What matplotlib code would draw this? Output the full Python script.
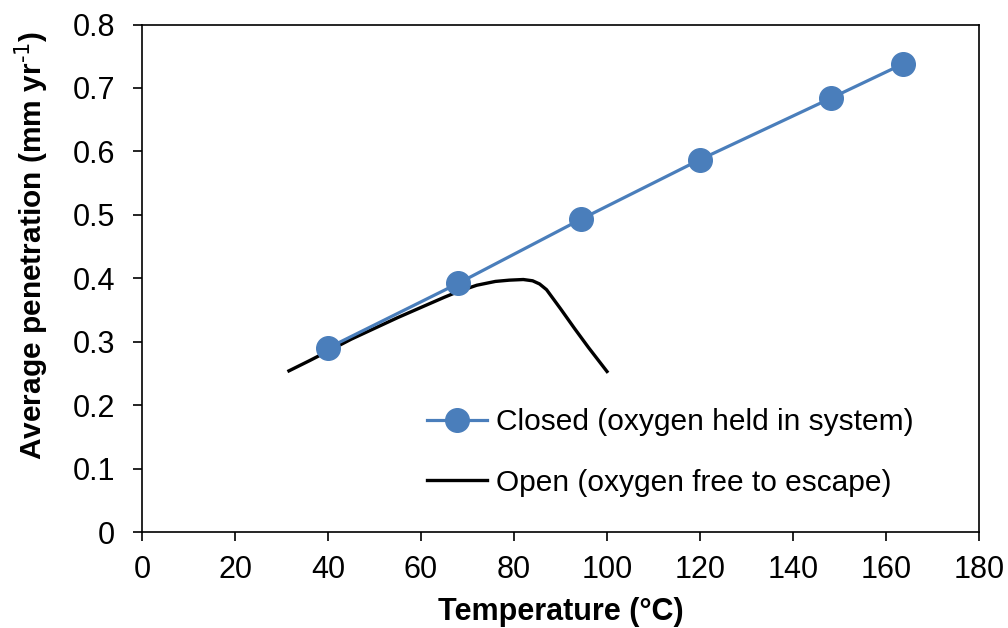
import matplotlib
matplotlib.use('Agg')
import matplotlib.pyplot as plt

plt.rcParams['font.family'] = ['Liberation Sans', 'DejaVu Sans']
plt.rcParams['mathtext.default'] = 'regular'

# Closed system: measured points
closed_temp = [40, 68, 94.4, 120, 148.2, 163.7]
closed_pen = [0.290, 0.392, 0.493, 0.587, 0.684, 0.738]

# Open system: smoothed curve read at several temperatures
open_temp = [31.6, 36, 40, 45, 50, 55, 60, 65, 68, 72, 76, 79, 82, 84, 85.5, 87, 90, 93, 96, 100]
open_pen = [0.254, 0.270, 0.285, 0.304, 0.321, 0.338, 0.354, 0.370, 0.379, 0.389, 0.395, 0.397, 0.398, 0.396,
            0.391, 0.382, 0.352, 0.321, 0.291, 0.253]

xticks = [0, 20, 40, 60, 80, 100, 120, 140, 160, 180]
yticks = [0, 0.1, 0.2, 0.3, 0.4, 0.5, 0.6, 0.7, 0.8]

fig = plt.figure(figsize=(10.08, 6.28), dpi=100)
ax = fig.add_axes([142 / 1008, 1 - 532 / 628, (979 - 142) / 1008, (532 - 24.5) / 628])

ax.plot(closed_temp, closed_pen, color='#4A7EBB', linewidth=2.3, marker='o', markersize=17,
        markerfacecolor='#4A7EBB', markeredgecolor='#4A7EBB', label='Closed (oxygen held in system)', zorder=3)
ax.plot(open_temp, open_pen, color='black', linewidth=2.4, solid_joinstyle='round',
        label='Open (oxygen free to escape)', zorder=2)

ax.set_xlim(0, 180)
ax.set_ylim(0, 0.8)
ax.set_xticks(xticks)
ax.set_yticks(yticks)
ax.set_xticklabels([str(t) for t in xticks])
ax.set_yticklabels(['0'] + ['%.1f' % t for t in yticks[1:]])
ax.tick_params(direction='out', length=6.5, width=1.2, labelsize=22)
ax.tick_params(axis='y', pad=13)
ax.tick_params(axis='x', pad=10)
for s in ax.spines.values():
    s.set_linewidth(1.2)

ax.set_xlabel('Temperature (°C)', fontsize=22, fontweight='bold', labelpad=9)
ax.set_ylabel(r'Average penetration (mm yr$^{\text{-1}}$)', fontsize=21.5, fontweight='bold',
              labelpad=16, y=0.5655)

ax.legend(loc='upper left', bbox_to_anchor=(427 / 1008, 1 - 408 / 628), bbox_transform=fig.transFigure,
          frameon=False, fontsize=21.5, handlelength=2.0, handletextpad=0.3, labelspacing=1.1,
          borderaxespad=0, borderpad=0)

fig.savefig('out.png', dpi=100)
